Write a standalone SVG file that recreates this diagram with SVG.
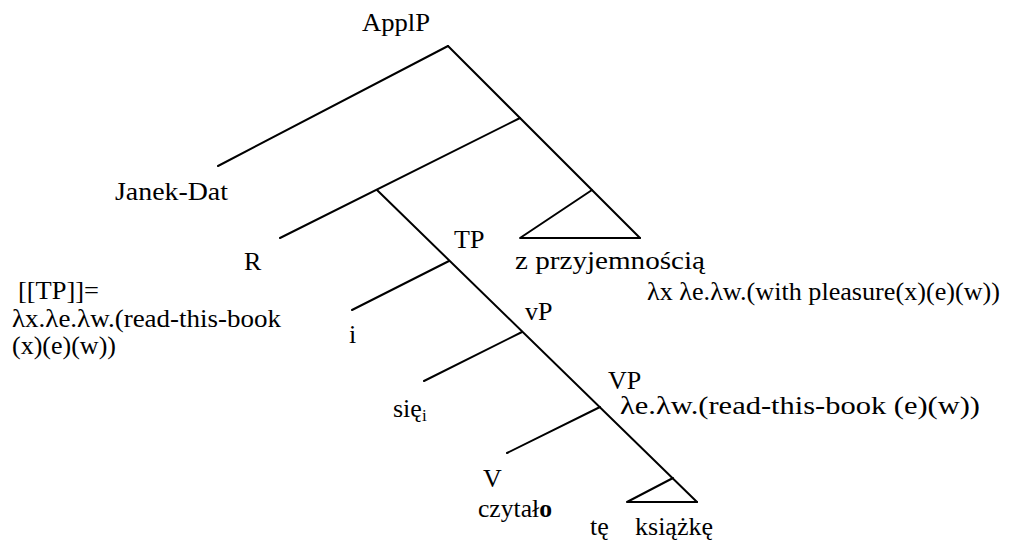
<svg xmlns="http://www.w3.org/2000/svg" width="1016" height="542" viewBox="0 0 1016 542">
<style>
.t{font-family:"Liberation Serif","Times New Roman",serif;font-size:26px;fill:#000}
.e{stroke:#000;stroke-width:2;fill:none;stroke-linecap:round;stroke-linejoin:round}
</style>
<rect width="1016" height="542" fill="#fff"/>
<g id="connectors">
<line class="e" x1="448" y1="46" x2="218" y2="166"/>
<line class="e" x1="448" y1="46" x2="640" y2="238"/>
<line class="e" x1="520" y1="118" x2="280" y2="238"/>
<polyline class="e" points="592,190 520,238 640,238"/>
<line class="e" x1="377" y1="190" x2="697" y2="502"/>
<line class="e" x1="449" y1="261" x2="352" y2="310"/>
<line class="e" x1="522" y1="332" x2="424" y2="381"/>
<line class="e" x1="600" y1="407" x2="507" y2="453"/>
<polyline class="e" points="673,478 627,502 697,502"/>
</g>
<g class="t">
<g id="ApplP"><text x="362" y="31" textLength="68" lengthAdjust="spacingAndGlyphs">ApplP</text></g>
<g id="JanekDat"><text x="115" y="200" textLength="113" lengthAdjust="spacingAndGlyphs">Janek-Dat</text></g>
<g id="R"><text x="244" y="270">R</text></g>
<g id="TP"><text x="454" y="248">TP</text></g>
<g id="zprzyjemnoscia">
<text x="515" y="269" textLength="190" lengthAdjust="spacingAndGlyphs">z przyjemnością</text>
<text x="647" y="300" textLength="353" lengthAdjust="spacingAndGlyphs">λx λe.λw.(with pleasure(x)(e)(w))</text>
</g>
<g id="TPdenotation">
<text x="18" y="299" textLength="81" lengthAdjust="spacingAndGlyphs">[[TP]]=</text>
<text x="12" y="327" textLength="269" lengthAdjust="spacingAndGlyphs">λx.λe.λw.(read-this-book</text>
<text x="12" y="354" textLength="104" lengthAdjust="spacingAndGlyphs">(x)(e)(w))</text>
</g>
<g id="i"><text x="349" y="343">i</text></g>
<g id="vP"><text x="525" y="320">vP</text></g>
<g id="sie"><text x="393" y="417">się<tspan font-size="17" dy="4">i</tspan></text></g>
<g id="VP">
<text x="608" y="389">VP</text>
<text x="620" y="414" textLength="360" lengthAdjust="spacingAndGlyphs">λe.λw.(read-this-book (e)(w))</text>
</g>
<g id="V">
<text x="483" y="487">V</text>
<text x="478" y="517" textLength="74" lengthAdjust="spacingAndGlyphs">czytał<tspan font-weight="bold">o</tspan></text>
</g>
<g id="teksiazke">
<text x="590" y="535">tę</text>
<text x="635" y="535" textLength="78" lengthAdjust="spacingAndGlyphs">książkę</text>
</g>
</g>
</svg>
